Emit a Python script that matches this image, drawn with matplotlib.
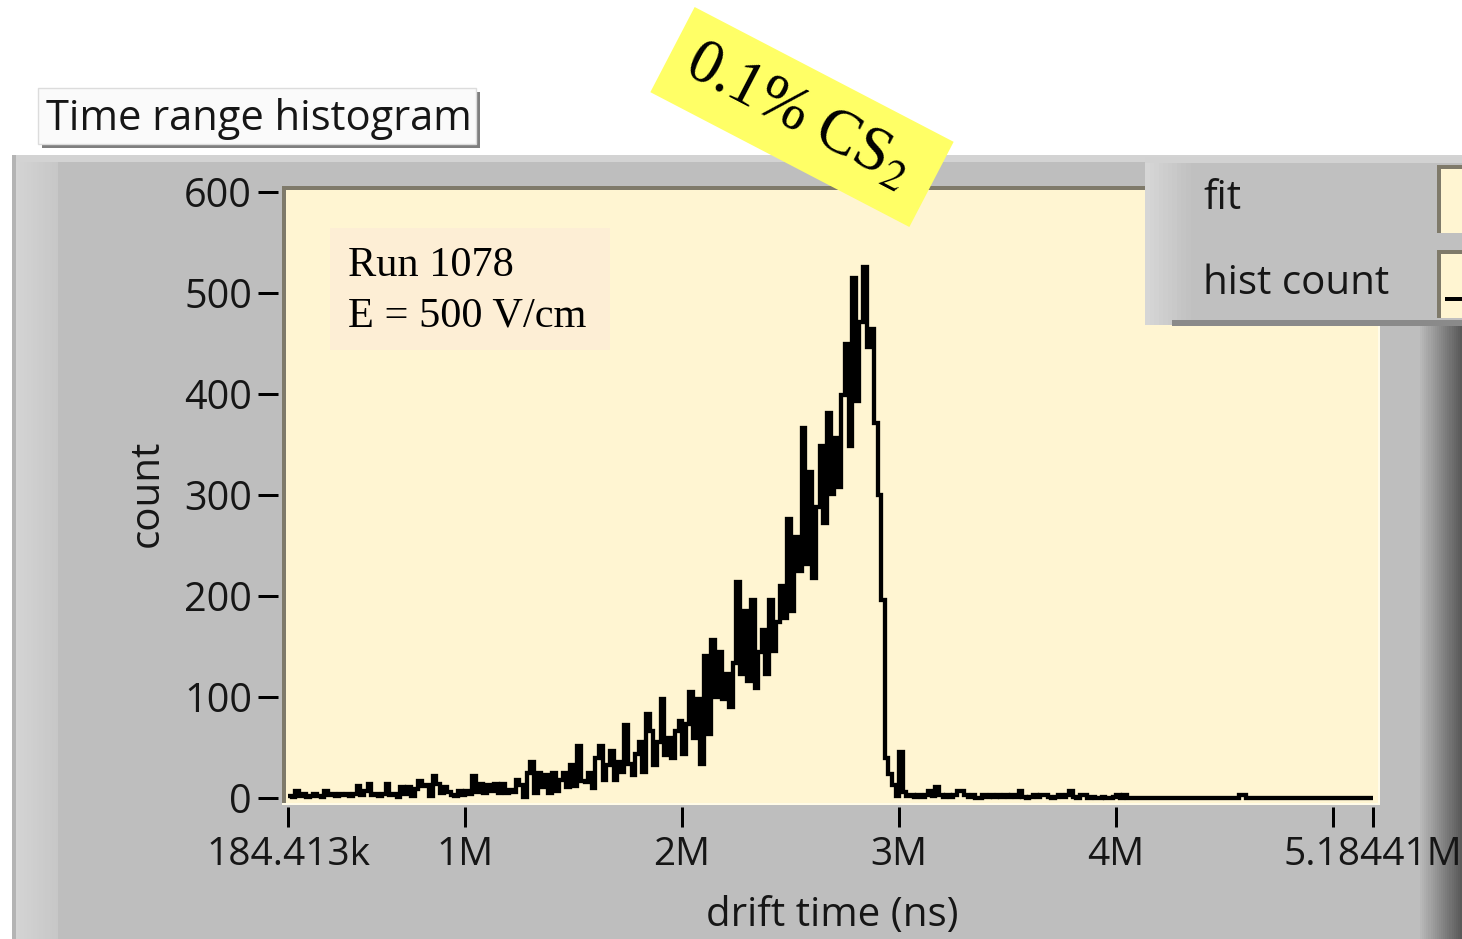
import numpy as np
import matplotlib.pyplot as plt
from matplotlib.patches import Rectangle, Polygon

# histogram counts (300 bins between t_min and t_max)
counts = [
    2, 1, 7, 2, 4, 1, 2, 4, 2, 1,
    7, 3, 4, 2, 4, 3, 4, 2, 4, 12,
    3, 7, 14, 3, 4, 2, 4, 14, 3, 4,
    1, 11, 4, 11, 2, 9, 17, 12, 13, 2,
    22, 14, 5, 11, 6, 3, 2, 7, 3, 7,
    4, 22, 6, 14, 5, 13, 7, 14, 5, 14,
    5, 8, 6, 18, 13, 1, 25, 36, 5, 25,
    11, 23, 5, 25, 7, 18, 25, 11, 33, 12,
    51, 17, 16, 25, 10, 40, 51, 18, 33, 47,
    18, 36, 26, 72, 34, 23, 44, 55, 26, 83,
    66, 33, 55, 98, 43, 59, 40, 66, 76, 44,
    73, 105, 59, 98, 34, 141, 63, 156, 100, 145,
    98, 123, 90, 134, 214, 123, 185, 116, 196, 109,
    145, 166, 123, 196, 146, 174, 210, 178, 276, 185,
    258, 225, 366, 232, 323, 218, 288, 349, 272, 381,
    301, 356, 308, 399, 450, 349, 515, 393, 471, 526,
    447, 464, 371, 300, 196, 40, 24, 13, 2, 46,
    6, 2, 3, 1, 3, 1, 3, 7, 2, 11,
    3, 1, 3, 1, 3, 7, 7, 3, 1, 3,
    0, 0, 3, 1, 3, 1, 3, 1, 3, 1,
    3, 1, 7, 1, 0, 1, 3, 1, 3, 3,
    1, 0, 1, 3, 1, 3, 7, 1, 0, 3,
    3, 0, 1, 0, 0, 1, 0, 0, 1, 3,
    0, 3, 0, 0, 0, 0, 0, 0, 0, 0,
    0, 0, 0, 0, 0, 0, 0, 0, 0, 0,
    0, 0, 0, 0, 0, 0, 0, 0, 0, 0,
    0, 0, 0, 3, 3, 0, 0, 0, 0, 0,
    0, 0, 0, 0, 0, 0, 0, 0, 0, 0,
    0, 0, 0, 0, 0, 0, 0, 0, 0, 0,
    0, 0, 0, 0, 0, 0, 0, 0, 0, 0,
]
t_min, t_max = 184413, 5184410

x_ticks = [184413, 1e6, 2e6, 3e6, 4e6, 5e6, 5184410]
x_tick_labels = ['184.413k', '1M', '2M', '3M', '4M', '', '5.18441M']
y_ticks = [0, 100, 200, 300, 400, 500, 600]
y_tick_labels = ['0', '100', '200', '300', '400', '500', '600']
legend_labels = ['fit', 'hist count']
run_note = ['Run 1078', 'E = 500 V/cm']

plt.rcParams['font.family'] = ['Open Sans', 'DejaVu Sans']
plt.rcParams['mathtext.fontset'] = 'stix'

W, H = 1462, 939
fig = plt.figure(figsize=(W / 100, H / 100), dpi=100)
fig.patch.set_facecolor('white')

PT = 0.72  # points per pixel
TXT = '#161616'
CREAM = '#fff5d2'
GREY = '#bebebe'


def box(x0, y0, x1, y1, z=-5, **kw):
    # rectangle given in picture pixels (y down)
    r = Rectangle((x0 / W, 1 - y1 / H), (x1 - x0) / W, (y1 - y0) / H,
                  transform=fig.transFigure, zorder=z, **kw)
    fig.add_artist(r)
    return r


def hgrad(x0, x1, y0, y1, c0, c1, z=-5, n=20):
    c0, c1 = np.array(c0), np.array(c1)
    xs = np.linspace(x0, x1, n + 1)
    for i in range(n):
        c = c0 + (c1 - c0) * i / (n - 1)
        box(xs[i], y0, xs[i + 1] + 0.5, y1, z=z, fc=c, ec='none')


def ftext(x, y, s, **kw):
    return fig.text(x / W, 1 - y / H, s, **kw)


# grey graph panel
box(12, 155, 1462, 939, fc=GREY, ec='none')
box(12, 155, 1462, 162, z=-4.9, fc='#d3d3d3', ec='none')
box(12, 155, 16, 939, z=-4.8, fc='#b4b4b4', ec='none')
hgrad(16, 58, 162, 939, (0.83, 0.83, 0.83), (0.78, 0.78, 0.78), z=-4.8)
hgrad(1420, 1462, 325, 939, (0.72, 0.72, 0.72), (0.35, 0.35, 0.35), z=-4.8)

# plot area background with sunken border
box(282, 186, 1380, 805, z=-4, fc='#fffbe8', ec='none')
box(286, 190, 1378, 803, z=-3.9, fc=CREAM, ec='none')
box(282, 186, 1378, 190, z=-3.8, fc='#7f7a6a', ec='none')
box(282, 186, 286, 803, z=-3.8, fc='#7f7a6a', ec='none')

# run info box
box(330, 228, 610, 350, z=-3.5, fc='#fdeed5', ec='none')
for i, line in enumerate(run_note):
    ftext(348, 266 + 50 * i, line, family=['Liberation Serif'], fontsize=30.5,
          color='black', va='center', ha='left')

ax = fig.add_axes([288 / W, (H - 798) / H, (1373 - 288) / W, (798 - 192) / H])
ax.patch.set_visible(False)
edges = np.linspace(t_min, t_max, len(counts) + 1)
ax.stairs(counts, edges, baseline=None, color='black', lw=4.3 * PT,
          clip_on=False, joinstyle='miter')
ax.set_xlim(t_min, t_max)
ax.set_ylim(0, 600)

for s in ['top', 'right']:
    ax.spines[s].set_visible(False)
ax.spines['left'].set_position(('outward', 10 * PT))
ax.spines['bottom'].set_position(('outward', 9 * PT))
ax.spines['left'].set_color('none')
ax.spines['bottom'].set_color('none')

ax.set_xticks(x_ticks)
ax.set_xticklabels(x_tick_labels)
ax.set_yticks(y_ticks)
ax.set_yticklabels(y_tick_labels)
ax.tick_params(axis='y', direction='out', length=20 * PT, width=3 * PT,
               pad=6 * PT, labelsize=28.5, labelcolor=TXT, color='black')
ax.tick_params(axis='x', direction='out', length=20 * PT, width=3 * PT,
               pad=9 * PT, labelsize=28, labelcolor=TXT, color='black')

ftext(148, 493, 'count', rotation=90, ha='center', va='center', fontsize=29, color=TXT)
ftext(832, 916, 'drift time (ns)', ha='center', va='center', fontsize=29, color=TXT)

# graph title label
box(42, 92, 480, 148, z=2, fc='#7f7f7f', ec='none')
box(38, 88, 476, 144, z=2.1, fc='#fafafa', ec='#dcdcdc', lw=1)
ftext(46, 119, 'Time range histogram', ha='left', va='center', fontsize=30,
      color=TXT, zorder=3)

# plot legend
box(1145, 157, 1462, 325, z=4, fc='#c0c0c0', ec='none')
box(1145, 157, 1462, 163, z=4.1, fc='#d2d2d2', ec='none')
hgrad(1145, 1190, 163, 325, (0.84, 0.84, 0.84), (0.76, 0.76, 0.76), z=4.1, n=10)
box(1172, 320, 1462, 326, z=4.2, fc='#8a8a8a', ec='none')
for i, lab in enumerate(legend_labels):
    y0 = 165 + 85 * i
    box(1437, y0, 1462, y0 + 68, z=4.3, fc='#7f7a6a', ec='none')
    box(1441, y0 + 4, 1462, y0 + 68, z=4.4, fc=CREAM, ec='none')
    ftext(1203, 199 + 85 * i, lab, ha='left', va='center', fontsize=29,
          color=TXT, zorder=4.5)
box(1445, 297, 1462, 301, z=4.5, fc='black', ec='none')

# yellow sticker
cx, cy, bw, bh, ang = 802, 117, 292, 96, np.radians(27.5)
u = np.array([np.cos(ang), np.sin(ang)])
v = np.array([-np.sin(ang), np.cos(ang)])
corners = [np.array([cx, cy]) + sx * bw / 2 * u + sy * bh / 2 * v
           for sx, sy in [(-1, -1), (1, -1), (1, 1), (-1, 1)]]
poly = Polygon([(p[0] / W, 1 - p[1] / H) for p in corners], closed=True,
               transform=fig.transFigure, fc='#ffff66', ec='none', zorder=6)
fig.add_artist(poly)
ftext(798, 116, '0.1% CS$_2$', rotation=-27.5, rotation_mode='anchor',
      ha='center', va='center', family=['Liberation Serif'], fontsize=45,
      color='black', zorder=7)

fig.savefig('out.png', dpi=100)
